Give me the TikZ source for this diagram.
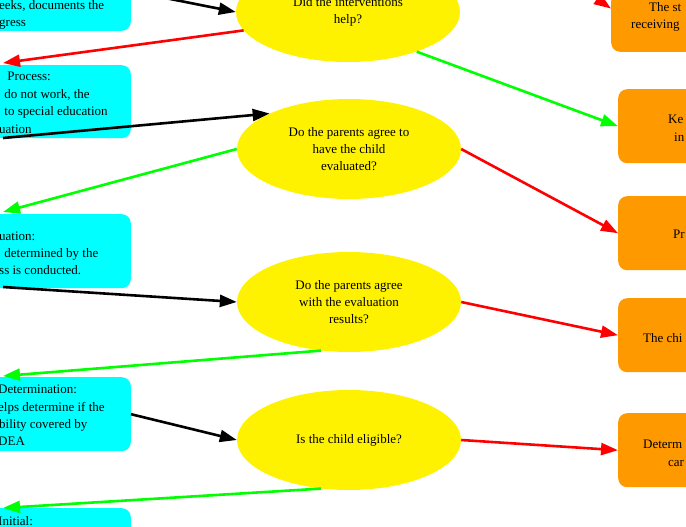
\documentclass[tikz,border=0pt]{standalone}
\usepackage{fontspec}
\setmainfont{Liberation Serif}
\usetikzlibrary{shapes.geometric,arrows.meta}
\definecolor{stagecyan}{HTML}{00FFFF}
\definecolor{outorange}{HTML}{FF9900}
\definecolor{flowgreen}{HTML}{00FF00}
\tikzset{
% Node styles: questions, cyan stages and orange outcomes
question/.style={ellipse,fill=yellow,minimum width=224,minimum height=100,align=center,inner sep=0},
stage/.style={rectangle,rounded corners=9,fill=stagecyan},
outcome/.style={rectangle,rounded corners=9,fill=outorange},
frag/.style={anchor=base west,inner sep=0},
flow/.style={line width=2.6,-{Triangle[length=17,width=12]}}
}
\begin{document}
\begin{tikzpicture}[x=1pt,y=-1pt,font=\fontsize{13}{17}\selectfont]
      \useasboundingbox (0,0) rectangle (686,527);
      \clip (0,0) rectangle (686,527);
      % Left column (stages)
      \node[stage,anchor=south east,minimum width=200,minimum height=60] (monitor) at (131,31) {};
      \node[stage,anchor=north east,minimum width=200,minimum height=73] (referral) at (131,65) {};
      \node[stage,anchor=north east,minimum width=200,minimum height=74] (evaluation) at (131,214) {};
      \node[stage,anchor=north east,minimum width=200,minimum height=74] (eligibility) at (131,377) {};
      \node[stage,anchor=north east,minimum width=200,minimum height=74] (initial) at (131,508) {};
      \node[frag] at (-1,10) {eeks, documents the};
      \node[frag] at (-1,27) {gress};
      \node[frag] at (4,81) {\ Process:};
      \node[frag] at (1,99) {\ do not work, the};
      \node[frag] at (1,116) {\ to special education};
      \node[frag] at (-1,133) {uation};
      \node[frag] at (-1,240) {uation:};
      \node[frag] at (1,257) {\ determined by the};
      \node[frag] at (-1,274) {ss is conducted.};
      \node[frag] at (-2,393) {Determination:};
      \node[frag] at (-2,411) {elps determine if the};
      \node[frag] at (-1,428) {bility covered by};
      \node[frag] at (-2,445) {DEA};
      \node[frag] at (-2,525) {Initial:};
      % Middle column (questions)
      \node[question] (help) at (348,12) {Did the interventions\\help?};
      \node[question] (agree) at (349,149) {Do the parents agree to\\have the child\\evaluated?};
      \node[question] (results) at (349,302) {Do the parents agree\\with the evaluation\\results?};
      \node[question] (eligible) at (349,440) {Is the child eligible?};
      % Right column (outcomes)
      \node[outcome,anchor=south west,minimum width=150,minimum height=60] (stays) at (611,52) {};
      \node[outcome,anchor=north west,minimum width=150,minimum height=74] (keep) at (618,89) {};
      \node[outcome,anchor=north west,minimum width=150,minimum height=74] (proceed) at (618,196) {};
      \node[outcome,anchor=north west,minimum width=150,minimum height=74] (child) at (618,298) {};
      \node[outcome,anchor=north west,minimum width=150,minimum height=74] (determine) at (618,413) {};
      \node[frag] at (649,12) {The st};
      \node[frag] at (631,29) {receiving};
      \node[frag] at (668,123) {Ke};
      \node[frag] at (674,141) {in};
      \node[frag] at (673,238) {Pr};
      \node[frag] at (643,342) {The chi};
      \node[frag] at (643,448) {Determ};
      \node[frag] at (668,466) {car};
      % Connector ends
      \coordinate (a1) at (130,-9);
      \coordinate (a2) at (3,63);
      \coordinate (a3) at (3,138);
      \coordinate (a4) at (3,212);
      \coordinate (a5) at (3,287);
      \coordinate (a6) at (3,376);
      \coordinate (a7) at (3,508);
      \coordinate (a8) at (590,-6);
      % Connectors
      \draw[flow] (a1) -- (help.west);
      \draw[flow,red] (help.190) -- (a2);
      \draw[flow] (a3) -- (agree.north west);
      \draw[flow,flowgreen] (agree.west) -- (a4);
      \draw[flow] (a5) -- (results.west);
      \draw[flow,flowgreen] (results.-120) -- (a6);
      \draw[flow] (eligibility.east) -- (eligible.west);
      \draw[flow,flowgreen] (eligible.-120) -- (a7);
      \draw[flow,red] (a8) -- (stays.170);
      \draw[flow,flowgreen] (help.-30) -- (keep.west);
      \draw[flow,red] (agree.east) -- (proceed.west);
      \draw[flow,red] (results.east) -- (child.west);
      \draw[flow,red] (eligible.east) -- (determine.west);
    \end{tikzpicture}
\end{document}
